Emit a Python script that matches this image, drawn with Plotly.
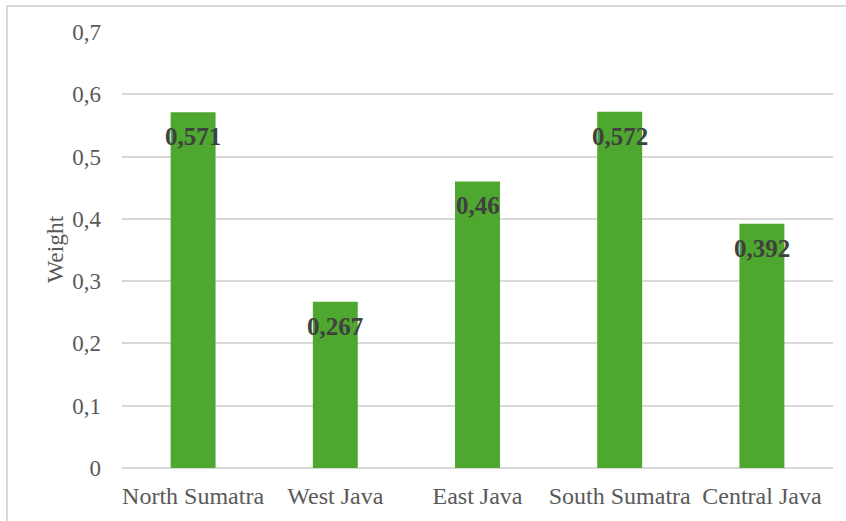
import plotly.graph_objects as go

# Weight per province
provinces = ["North Sumatra", "West Java", "East Java", "South Sumatra", "Central Java"]
weights = [0.571, 0.267, 0.46, 0.572, 0.392]
y_ticks = [0, 0.1, 0.2, 0.3, 0.4, 0.5, 0.6, 0.7]

W, H = 846, 521
L, R, T, B = 122, 13, 32, 53
pw, ph = W - L - R, H - T - B

def px_x(p):
    return (p - L) / pw

def px_y(p):
    return (H - B - p) / ph

def comma(v):
    return f"{v:g}".replace(".", ",")

font = "Liberation Serif, Times New Roman, serif"

fig = go.Figure(
    go.Bar(
        x=provinces,
        y=weights,
        marker=dict(color="#4ea72e", line=dict(width=0)),
        hoverinfo="skip",
    )
)

# value labels just below each bar's top
for name, v in zip(provinces, weights):
    fig.add_annotation(
        x=name, y=v, text=comma(v), showarrow=False,
        xanchor="center", yanchor="top", yshift=-9,
        font=dict(family=font, size=25, color="#404040", weight="bold"),
    )

# axis title
fig.add_annotation(
    xref="paper", yref="paper", x=px_x(55), y=px_y(249),
    text="Weight", textangle=-90, showarrow=False,
    xanchor="center", yanchor="middle",
    font=dict(family=font, size=23.5, color="#595959"),
)

# chart frame
fig.add_shape(
    type="rect", xref="paper", yref="paper",
    x0=px_x(7), x1=px_x(870), y0=px_y(540), y1=px_y(6),
    line=dict(color="#d9d9d9", width=2), fillcolor="rgba(0,0,0,0)", layer="below",
)

fig.update_layout(
    width=W, height=H,
    margin=dict(l=L, r=R, t=T, b=B, autoexpand=False),
    paper_bgcolor="white", plot_bgcolor="white",
    bargap=0.684,
    showlegend=False,
    font=dict(family=font, size=23, color="#595959"),
    xaxis=dict(
        showline=False, showgrid=False, ticks="", ticklabelstandoff=11,
        tickfont=dict(family=font, size=24, color="#595959"),
    ),
    yaxis=dict(
        range=[0, 0.7], tickvals=y_ticks, ticktext=[comma(t) for t in y_ticks],
        showgrid=True, gridcolor="#d9d9d9", gridwidth=2,
        zeroline=True, zerolinecolor="#d9d9d9", zerolinewidth=2,
        showline=False, ticks="", ticklabelstandoff=20,
        tickfont=dict(family=font, size=23, color="#595959"),
    ),
)

fig.write_html("out.html")
